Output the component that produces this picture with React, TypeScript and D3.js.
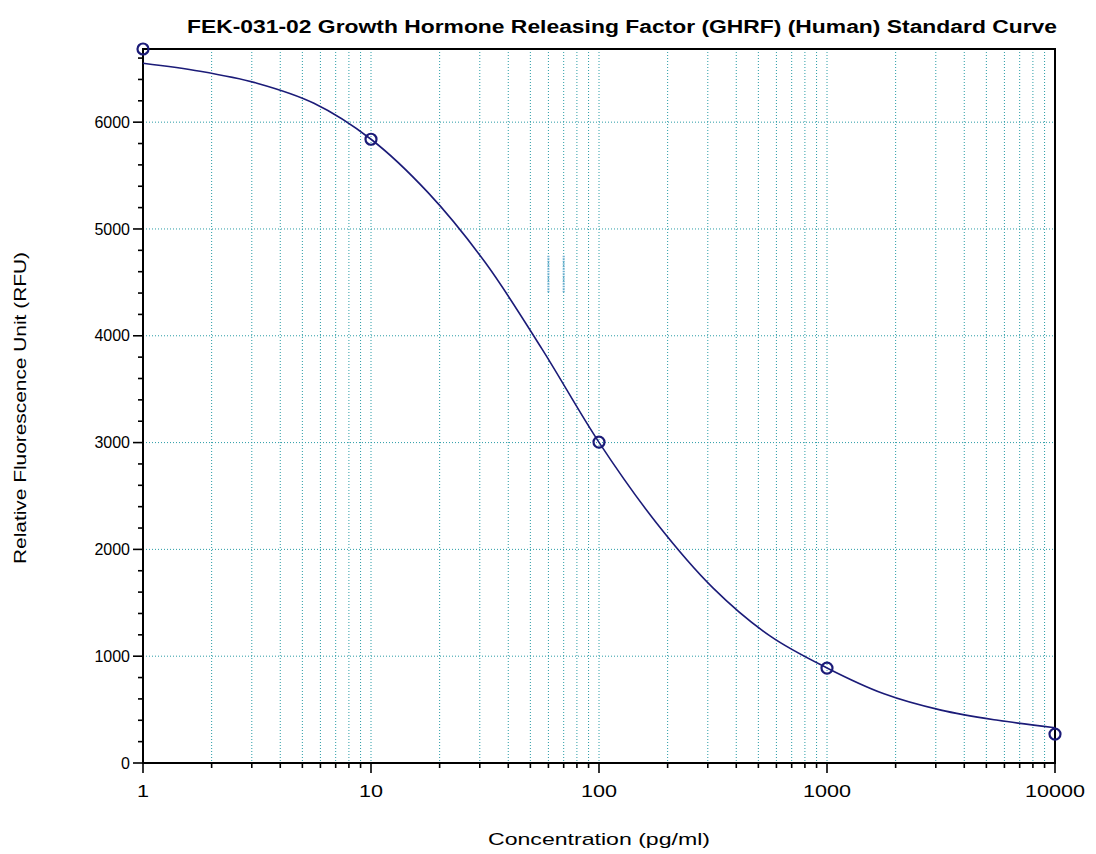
import React from "react";
import * as d3 from "d3";

// standards (measured points)
const concentrations = [1, 10, 100, 1000, 10000];
const rfu = [6685, 5840, 3005, 889, 271];

// fitted curve at quarter decades
const fitConc = [1, 1.78, 3.16, 5.62, 10, 17.8, 31.6, 56.2, 100, 178, 316, 562, 1000, 1778, 3162, 5623, 10000];
const fitRfu = [6552, 6477, 6365, 6177, 5840, 5340, 4690, 3877, 3002, 2252, 1640, 1190, 890, 648, 495, 400, 330];

const yTicks = [0, 1000, 2000, 3000, 4000, 5000, 6000];
const xTickLabels = ["1", "10", "100", "1000", "10000"];

// darker dotted bits on the 60 and 70 gridlines
const markConc = [60, 70];
const markRange = [4400, 4750];

const W = 1096;
const H = 854;
const margin = { left: 143, right: 41, top: 49, bottom: 91 };

const GRID = "#2a9ca6";
const NAVY = "#1b1b78";
const FONT = "Liberation Sans, Arial, sans-serif";

export default function App() {
  const x = d3
    .scaleLog()
    .domain([1, 10000])
    .range([margin.left, W - margin.right]);
  const y = d3
    .scaleLinear()
    .domain([0, d3.max(rfu) as number])
    .range([H - margin.bottom, margin.top]);

  const x0 = margin.left;
  const x1 = W - margin.right;
  const y0 = H - margin.bottom;
  const y1 = margin.top;

  // every 1..9 within each decade
  const logTicks: number[] = [];
  for (let d = 1; d < 10000; d *= 10) {
    for (let k = 1; k < 10; k++) logTicks.push(d * k);
  }
  logTicks.push(10000);
  const minorY = d3.range(0, (d3.max(rfu) as number) + 1, 200);

  const line = d3
    .line<number>()
    .x((_, i) => x(fitConc[i]))
    .y((d) => y(d))
    .curve(d3.curveCatmullRom);

  return (
    <div style={{ position: "absolute", left: 0, top: 0 }}>
      <svg width={W} height={H} style={{ display: "block", background: "white" }}>
        {/* grid */}
        <g stroke={GRID} strokeWidth={1} strokeDasharray="1 2">
          {logTicks
            .filter((t) => t > 1 && t < 10000)
            .map((t) => (
              <line key={"gx" + t} x1={x(t)} x2={x(t)} y1={y1} y2={y0} />
            ))}
          {yTicks
            .filter((t) => t > 0)
            .map((t) => (
              <line key={"gy" + t} x1={x0} x2={x1} y1={y(t)} y2={y(t)} />
            ))}
        </g>
        <g stroke="#6aaed0" strokeWidth={2} strokeDasharray="1.5 1">
          {markConc.map((c) => (
            <line key={"mk" + c} x1={x(c)} x2={x(c)} y1={y(markRange[1])} y2={y(markRange[0])} />
          ))}
        </g>

        {/* frame */}
        <rect x={x0} y={y1} width={x1 - x0} height={y0 - y1} fill="none" stroke="#000" strokeWidth={2} />

        {/* ticks */}
        <g stroke="#000" strokeWidth={1.6}>
          {minorY.map((t) => (
            <line key={"my" + t} x1={x0 - (t % 1000 === 0 ? 10 : 5)} x2={x0} y1={y(t)} y2={y(t)} />
          ))}
          {logTicks.map((t, i) => (
            <line
              key={"mx" + t}
              x1={x(t)}
              x2={x(t)}
              y1={y0}
              y2={y0 + (i % 9 === 0 || t === 10000 ? 10 : 5)}
            />
          ))}
        </g>

        <g fontFamily={FONT} fontSize={16} fill="#000">
          {yTicks.map((t) => (
            <text key={"ly" + t} x={x0 - 13} y={y(t)} dy="0.35em" textAnchor="end">
              {t}
            </text>
          ))}
          {xTickLabels.map((s) => (
            <text
              key={"lx" + s}
              transform={`translate(${x(+s)}, ${y0 + 34}) scale(1.35, 1)`}
              textAnchor="middle"
            >
              {s}
            </text>
          ))}
          <text
            x={(x0 + x1) / 2}
            y={845}
            textAnchor="middle"
            fontSize={17}
            textLength={222}
            lengthAdjust="spacingAndGlyphs"
          >
            Concentration (pg/ml)
          </text>
          <text
            transform={`translate(26, ${(y0 + y1) / 2 + 2}) rotate(-90)`}
            textAnchor="middle"
            fontSize={17}
            textLength={312}
            lengthAdjust="spacingAndGlyphs"
          >
            Relative Fluorescence Unit (RFU)
          </text>
          <text
            x={622}
            y={33}
            textAnchor="middle"
            fontWeight="bold"
            fontSize={18}
            textLength={870}
            lengthAdjust="spacingAndGlyphs"
          >
            FEK-031-02 Growth Hormone Releasing Factor (GHRF) (Human) Standard Curve
          </text>
        </g>

        {/* fitted curve */}
        <path d={line(fitRfu) ?? ""} fill="none" stroke={NAVY} strokeWidth={1.6} />

        {/* standards */}
        {concentrations.map((c, i) => (
          <circle key={"p" + c} cx={x(c)} cy={y(rfu[i])} r={5.5} fill="none" stroke={NAVY} strokeWidth={2.2} />
        ))}
      </svg>
    </div>
  );
}
